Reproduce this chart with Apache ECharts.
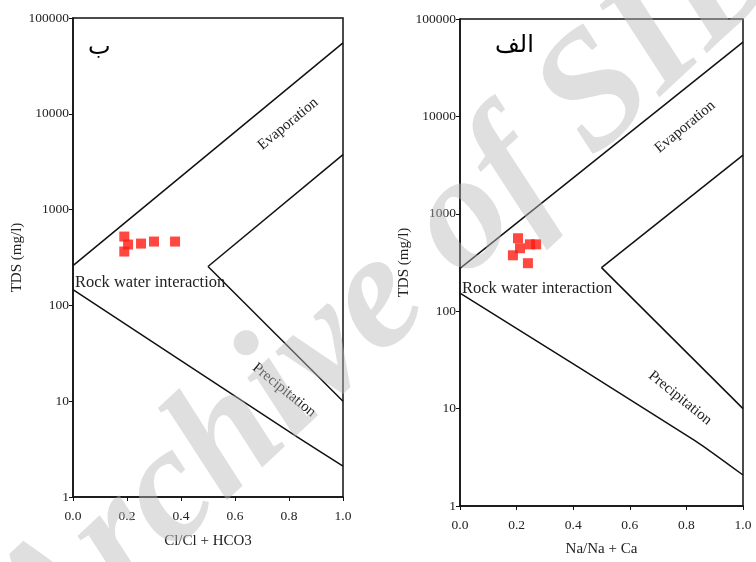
<!DOCTYPE html>
<html>
<head>
<meta charset="utf-8">
<script src="https://cdn.jsdelivr.net/npm/echarts@6/dist/echarts.min.js"></script>
<style>
  html, body { margin: 0; padding: 0; background: #fff; }
  #gibbs { width: 756px; height: 562px; }
</style>
</head>
<body>
<div id="gibbs"></div>
<script>
// Gibbs diagrams, left: Cl/(Cl+HCO3), right: Na/(Na+Ca)
const leftPoints = [[0.19, 523], [0.204, 432], [0.19, 365], [0.252, 442], [0.30, 464], [0.378, 464]]
const rightPoints = [[0.205, 561], [0.212, 443], [0.187, 375], [0.247, 486], [0.269, 486], [0.24, 311]]

const leftEvap = [[0, 260], [1, 55000]]
const leftUpper = [[0.5, 255], [1, 3750]]
const leftRock = [[0.5, 255], [1, 10]]
const leftPrecip = [[0, 146], [0.83, 4.25], [1, 2.1]]

const rightEvap = [[0, 275], [1, 58000]]
const rightUpper = [[0.5, 280], [1, 4000]]
const rightRock = [[0.5, 280], [1, 10]]
const rightPrecip = [[0, 153], [0.83, 4.7], [1, 2.08]]

const serif = 'Liberation Serif'
const ink = '#111'

const axisLine = { lineStyle: { color: ink, width: 1.5 } }
const axisTick = { length: 4, lineStyle: { color: ink } }
const axisLabel = { color: '#222', fontFamily: serif, fontSize: 13.5 }
const nameStyle = { color: '#222', fontFamily: serif, fontSize: 15 }

function xAxis (idx, name, gap) {
  return {
    type: 'value', gridIndex: idx, min: 0, max: 1, interval: 0.2,
    name, nameLocation: 'middle', nameGap: gap, nameTextStyle: nameStyle,
    axisLine, axisTick,
    axisLabel: Object.assign({ margin: 12, formatter: v => v.toFixed(1) }, axisLabel),
    splitLine: { show: false }
  }
}

function yAxis (idx, gap) {
  return {
    type: 'log', logBase: 10, gridIndex: idx, min: 1, max: 100000,
    name: 'TDS (mg/l)', nameLocation: 'middle', nameGap: gap, nameTextStyle: nameStyle,
    axisLine, axisTick,
    axisLabel: Object.assign({ margin: 4, formatter: v => String(Math.round(v)) }, axisLabel),
    minorTick: { show: false },
    splitLine: { show: false }
  }
}

function boundary (idx, data) {
  return {
    type: 'line', xAxisIndex: idx, yAxisIndex: idx, data,
    showSymbol: false, symbol: 'none', smooth: 0.2,
    lineStyle: { color: ink, width: 1.5 }, silent: true, z: 3
  }
}

function samples (idx, data) {
  return {
    type: 'scatter', xAxisIndex: idx, yAxisIndex: idx, data,
    symbol: 'rect', symbolSize: 10,
    itemStyle: { color: '#ff1a10' }, z: 4
  }
}

function note (text, x, y, rotation) {
  return {
    type: 'text', x, y, rotation: rotation || 0, z: 10,
    style: { text, fill: '#222', font: '15px "' + serif + '"', align: 'center', verticalAlign: 'middle' }
  }
}

const option = {
  backgroundColor: '#fff',
  animation: false,
  grid: [
    { left: 73, top: 18, width: 270, height: 479, show: true, borderColor: ink, borderWidth: 1.5 },
    { left: 460, top: 19, width: 283, height: 489, show: true, borderColor: ink, borderWidth: 1.5 }
  ],
  xAxis: [xAxis(0, 'Cl/Cl + HCO3', 37), xAxis(1, 'Na/Na + Ca', 36)],
  yAxis: [yAxis(0, 45), yAxis(1, 47)],
  series: [
    boundary(0, leftEvap), boundary(0, leftUpper), boundary(0, leftRock), boundary(0, leftPrecip),
    samples(0, leftPoints),
    boundary(1, rightEvap), boundary(1, rightUpper), boundary(1, rightRock), boundary(1, rightPrecip),
    samples(1, rightPoints)
  ],
  graphic: [
    { type: 'text', left: 88, top: 36, z: 10, style: { text: 'ب', fill: '#000', font: '24px "DejaVu Sans"' } },
    { type: 'text', left: 495, top: 34, z: 10, style: { text: 'الف', fill: '#000', font: '24px "DejaVu Sans"' } },
    note('Evaporation', 288, 124, 0.69),
    note('Evaporation', 685, 127, 0.69),
    note('Precipitation', 284, 390, -0.68),
    note('Precipitation', 680, 398, -0.68),
    { type: 'text', left: 75, top: 274, z: 10, style: { text: 'Rock water interaction', fill: '#222', font: '16.5px "' + serif + '"' } },
    { type: 'text', left: 462, top: 280, z: 10, style: { text: 'Rock water interaction', fill: '#222', font: '16.5px "' + serif + '"' } },
    {
      type: 'text', x: 390, y: 290, rotation: 0.75, z: 20, silent: true,
      style: {
        text: 'Archive of SID', fill: 'rgba(185,185,185,0.45)',
        font: 'italic bold 165px "Liberation Serif"', align: 'center', verticalAlign: 'middle'
      }
    }
  ]
}

const myChart = echarts.init(document.getElementById('gibbs'))
myChart.setOption(option)
</script>
</body>
</html>
